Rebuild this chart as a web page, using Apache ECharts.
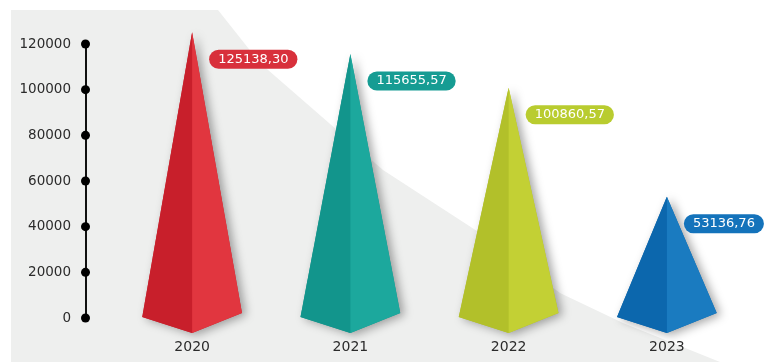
<!DOCTYPE html>
<html>
<head>
<meta charset="utf-8">
<script src="https://cdn.jsdelivr.net/npm/echarts@6/dist/echarts.min.js"></script>
<style>
html,body{margin:0;padding:0;background:#fff;}
#chart{width:774px;height:362px;}
</style>
</head>
<body>
<div id="chart"></div>
<script>
const categories = ['2020', '2021', '2022', '2023'];
const values = [125138.30, 115655.57, 100860.57, 53136.76];
const tickValues = [0, 20000, 40000, 60000, 80000, 100000, 120000];
const faceDark = ['#c81f2b', '#12958c', '#b2c02a', '#0c67ad'];
const faceLight = ['#e1363f', '#1ca89d', '#c3d034', '#1a7bc0'];
const badgeColors = ['#d8303b', '#169c93', '#b9cc2f', '#1473bb'];

const chart = echarts.init(document.getElementById('chart'), null, {renderer: 'canvas'});

function fmt(v) { return v.toFixed(2).replace('.', ','); }

const option = {
  backgroundColor: '#ffffff',
  animation: false,
  graphic: [{
    type: 'polygon',
    z: -10,
    silent: true,
    shape: {points: [[11,10],[218,10],[260,63],[383,170],[480,233],[560,293],[623,323],[720,362],[11,362]]},
    style: {fill: '#eeefee'}
  }],
  grid: [
    {left: 113, right: 28, top: 44, bottom: 44},
    {left: 85, width: 1, top: 44, bottom: 44}
  ],
  xAxis: [
    {
      gridIndex: 0, type: 'category', data: categories,
      axisLine: {show: false}, axisTick: {show: false}, splitLine: {show: false},
      axisLabel: {margin: 22, color: '#2b2b2b', fontSize: 14, fontFamily: 'DejaVu Sans'}
    },
    {gridIndex: 1, type: 'value', min: -1, max: 1, show: false}
  ],
  yAxis: [
    {gridIndex: 0, type: 'value', min: 0, max: 120000, interval: 20000, show: false},
    {
      gridIndex: 1, type: 'value', min: 0, max: 120000, interval: 20000,
      axisLine: {show: true, lineStyle: {color: '#111', width: 2}},
      axisTick: {show: false}, splitLine: {show: false},
      axisLabel: {margin: 14, color: '#2b2b2b', fontSize: 13.5, fontFamily: 'DejaVu Sans',
        formatter: function (v) { return String(v); }}
    }
  ],
  series: [
    {
      type: 'scatter', xAxisIndex: 1, yAxisIndex: 1,
      data: tickValues.map(t => [0, t]),
      symbol: 'circle', symbolSize: 9,
      itemStyle: {color: '#000', opacity: 1}, z: 5
    },
    {
      type: 'custom', xAxisIndex: 0, yAxisIndex: 0,
      clip: false,
      data: values.map((v, i) => [i, v]),
      renderItem: function (params, api) {
        const i = api.value(0);
        const v = api.value(1);
        const top = api.coord([i, v]);
        const base = api.coord([i, 0]);
        const bw = api.size([1, 0])[0];
        const hw = bw * 0.315;
        const cx = base[0];
        const left = [cx - hw, base[1] - 1];
        const right = [cx + hw, base[1] - 5];
        const front = [cx, base[1] + 15];
        const apex = [cx, top[1]];
        return {
          type: 'group',
          children: [
            {
              type: 'polygon',
              shape: {points: [apex, left, front, right]},
              style: {fill: faceDark[i], shadowBlur: 10, shadowColor: 'rgba(0,0,0,0.35)', shadowOffsetX: 4, shadowOffsetY: 2}
            },
            {
              type: 'polygon',
              shape: {points: [apex, left, front]},
              style: {fill: faceDark[i]}
            },
            {
              type: 'polygon',
              shape: {points: [apex, front, right]},
              style: {fill: faceLight[i]}
            },
            {
              type: 'text',
              x: apex[0] + 17,
              y: apex[1] + 27,
              style: {
                text: fmt(v),
                fill: '#ffffff',
                fontSize: 13,
                fontFamily: 'DejaVu Sans',
                align: 'left',
                verticalAlign: 'middle',
                backgroundColor: badgeColors[i],
                borderRadius: 10,
                padding: [3, 9, 3, 9]
              }
            }
          ]
        };
      }
    }
  ]
};
chart.setOption(option);
</script>
</body>
</html>
